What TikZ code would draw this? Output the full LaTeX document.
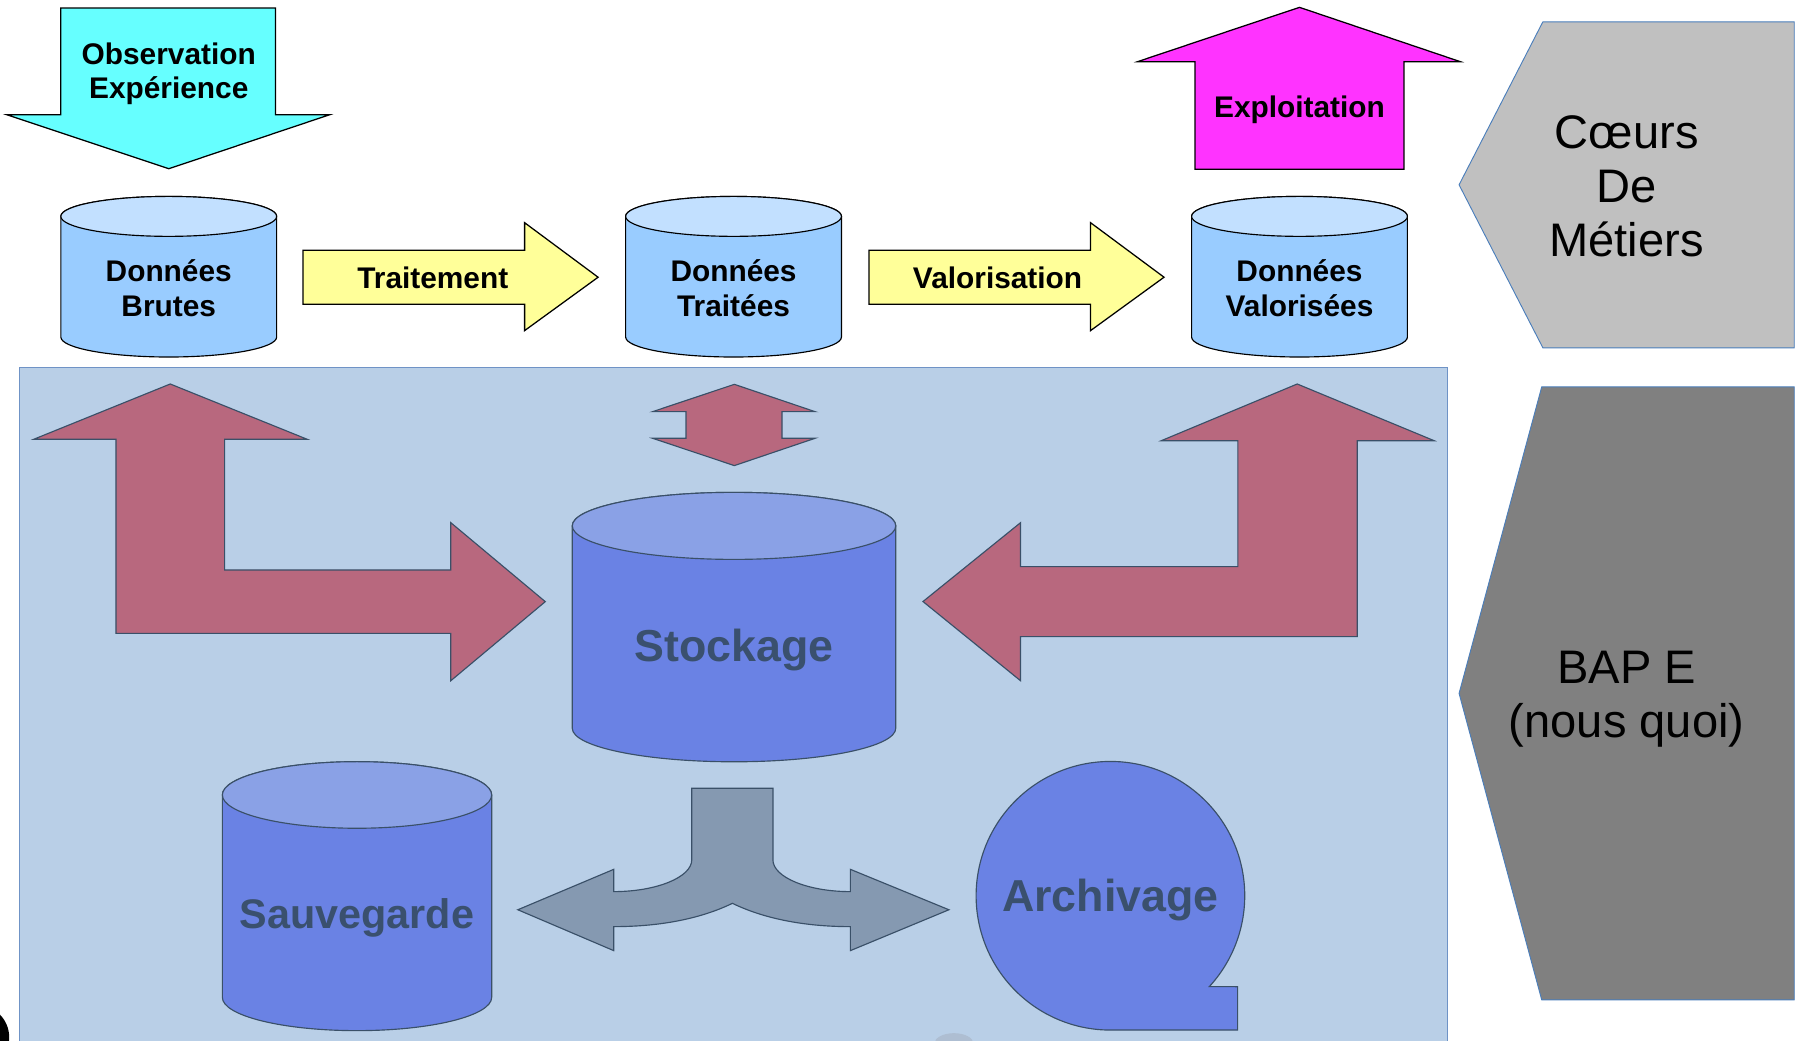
\documentclass[tikz,border=0pt]{standalone}
\usepackage{fontspec}
\setmainfont{Liberation Sans}

\definecolor{cyanarrow}{HTML}{66FFFF}
\definecolor{yellowarrow}{HTML}{FFFF99}
\definecolor{magentaarrow}{HTML}{FF33FF}
\definecolor{dbbody}{HTML}{99CCFF}
\definecolor{dbtop}{HTML}{C2E0FF}
\definecolor{panel}{HTML}{B9CFE7}
\definecolor{panelline}{HTML}{6F93C6}
\definecolor{mauve}{HTML}{B8687E}
\definecolor{slate}{HTML}{3A5068}
\definecolor{storebody}{HTML}{6A82E4}
\definecolor{storetop}{HTML}{8AA1E6}
\definecolor{splitfill}{HTML}{8599B1}
\definecolor{labeldark}{HTML}{3A506E}
\definecolor{greylight}{HTML}{C0C0C0}
\definecolor{greydark}{HTML}{808080}
\definecolor{polyline}{HTML}{4A7EBB}
\definecolor{smudge}{HTML}{AEBED2}

% database cylinder: centre x, top-ellipse y, bottom-ellipse y, x radius, y radius, body, lid, outline
\newcommand{\datacyl}[8]{%
  \filldraw[fill=#6, draw=#8, line width=1pt]
    (#1-#4,#2) -- (#1-#4,#3)
    arc[start angle=180, end angle=360, x radius=#4, y radius=#5]
    -- (#1+#4,#2)
    arc[start angle=0, end angle=180, x radius=#4, y radius=#5] -- cycle;
  \filldraw[fill=#7, draw=#8, line width=1pt]
    (#1,#2) ellipse[x radius=#4, y radius=#5];
}

\begin{document}
\begin{tikzpicture}[x=1pt, y=1pt,
  blockarrow/.style={draw=black, line width=1.1pt, line join=miter},
  panelarrow/.style={fill=mauve, draw=slate, line width=1pt, line join=miter},
  boldlabel/.style={font=\bfseries\fontsize{26}{30}\selectfont, align=center, text=black, inner sep=0pt},
  biglabel/.style={font=\bfseries\fontsize{39}{45}\selectfont, text=labeldark, inner sep=0pt},
  sidelabel/.style={font=\fontsize{41}{47}\selectfont, align=center, text=black, inner sep=0pt},
  sidebox/.style={draw=polyline, line width=0.8pt}
]
\useasboundingbox (0,0) rectangle (1568,906);
\clip (0,0) rectangle (1568,906);
\fill[white] (0,0) rectangle (1568,906);

% ---- storage panel ----
\filldraw[fill=panel, draw=panelline, line width=1.2pt] (17,-10) rectangle (1261,586);

% ---- top row ----
% incoming observation arrow
\filldraw[blockarrow, fill=cyanarrow]
  (53,899) -- (240,899) -- (240,806) -- (287,806) -- (147,759) -- (6,806) -- (53,806) -- cycle;
\node[boldlabel] (observation) at (147,841.5) {Observation\\Expérience};

% outgoing exploitation arrow
\filldraw[blockarrow, fill=magentaarrow]
  (1041,758.5) -- (1041,852.3) -- (991,852.3) -- (1132,899.6) -- (1272,852.3) -- (1223,852.3) -- (1223,758.5) -- cycle;
\node[boldlabel] (exploitation) at (1132,810) {Exploitation};

% data stages
\datacyl{147}{717.5}{612.4}{94}{17.4}{dbbody}{dbtop}{black}
\datacyl{639}{717.5}{612.4}{94}{17.4}{dbbody}{dbtop}{black}
\datacyl{1132}{717.5}{612.4}{94}{17.4}{dbbody}{dbtop}{black}
\node[boldlabel] (brutes) at (147,655) {Données\\Brutes};
\node[boldlabel] (traitees) at (639,655) {Données\\Traitées};
\node[boldlabel] (valorisees) at (1132,655) {Données\\Valorisées};

% processing arrows
\filldraw[blockarrow, fill=yellowarrow]
  (264,688) -- (457,688) -- (457,712) -- (521,664.5) -- (457,618) -- (457,641) -- (264,641) -- cycle;
\node[boldlabel] (traitement) at (377,664) {Traitement};
\filldraw[blockarrow, fill=yellowarrow]
  (757,688) -- (950,688) -- (950,712) -- (1014,664.5) -- (950,618) -- (950,641) -- (757,641) -- cycle;
\node[boldlabel] (valorisation) at (869,664) {Valorisation};

% ---- side banners ----
\filldraw[sidebox, fill=greylight]
  (1271,745) -- (1344,887) -- (1563,887) -- (1563,603) -- (1344,603) -- cycle;
\node[sidelabel] (metiers) at (1417,744) {Cœurs\\De\\Métiers};
\filldraw[sidebox, fill=greydark]
  (1271,302) -- (1343,569) -- (1563,569) -- (1563,35) -- (1343,35) -- cycle;
\node[sidelabel] (bape) at (1417,297) {BAP E\\(nous quoi)};

% ---- exchanges with storage ----
\filldraw[panelarrow]
  (148.3,571.5) -- (267.7,523.3) -- (195.7,523.3) -- (195.7,409.5) -- (392.7,409.5)
  -- (392.7,450.7) -- (475,381.9) -- (392.7,313) -- (392.7,354.3) -- (101,354.3)
  -- (101,523.3) -- (29.3,523.3) -- cycle;
\filldraw[panelarrow]
  (1130,571.5) -- (1011.6,522.1) -- (1078.3,522.1) -- (1078.3,412.4) -- (889,412.4)
  -- (889,450.7) -- (804,382) -- (889,313) -- (889,351.4) -- (1182.3,351.4)
  -- (1182.3,522.1) -- (1249.3,522.1) -- cycle;
\filldraw[panelarrow]
  (639.7,571.2) -- (710,547.4) -- (681.2,547.4) -- (681.2,524.2) -- (710,524.2)
  -- (639.7,500.4) -- (568.5,524.2) -- (597.6,524.2) -- (597.6,547.4) -- (568.5,547.4) -- cycle;

% central storage
\datacyl{639.4}{447.9}{271.6}{140.9}{29.2}{storebody}{storetop}{slate}
\node[biglabel] (stockage) at (639.4,340) {Stockage};

% backup
\datacyl{311}{213.5}{37.2}{117.3}{29}{storebody}{storetop}{slate}
\node[biglabel, font=\bfseries\fontsize{36}{42}\selectfont] (sauvegarde) at (311,106) {Sauvegarde};

% split arrow towards backup and archive
\filldraw[fill=splitfill, draw=slate, line width=1pt, line join=miter]
  (602.6,219.3) -- (673.3,219.3) -- (673.3,157)
  .. controls (673.3,141.8) and (703.7,129.3) .. (740.8,129.3)
  -- (740.8,148.7) -- (826.6,113.5) -- (740.8,77.9) -- (740.8,98.8)
  .. controls (700,98.8) and (665,106) .. (638,119.1)
  .. controls (611,106) and (576,98.8) .. (534.6,98.8)
  -- (534.6,77.9) -- (451.1,113.5) -- (534.6,148.7) -- (534.6,129.3)
  .. controls (571.7,129.3) and (602.6,141.8) .. (602.6,157) -- cycle;

% archive (sequential storage)
\filldraw[fill=storebody, draw=slate, line width=1pt]
  (967.3,8.7) arc[start angle=-90, end angle=-402.6, radius=117]
  -- (1078.1,46.5) -- (1078.1,8.7) -- cycle;
\node[biglabel] (archivage) at (967.3,122) {Archivage};

% stray marks along the lower edge
\fill[black] (-20,2.5) circle[radius=28];
\fill[smudge] (831,-3) ellipse[x radius=17, y radius=9];
\end{tikzpicture}
\end{document}
